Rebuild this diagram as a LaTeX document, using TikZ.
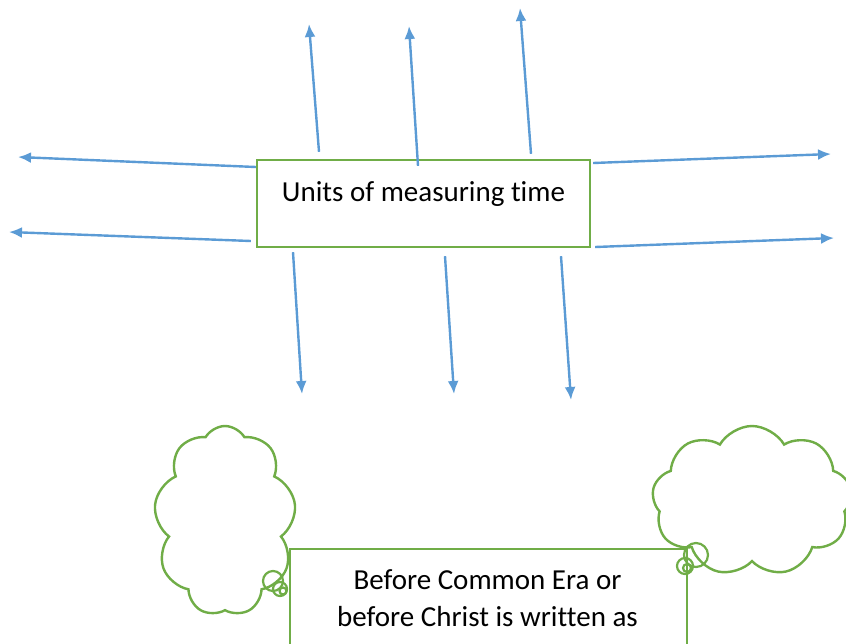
\documentclass[tikz,border=0pt]{standalone}
\usepackage{fontspec}
\setmainfont[Ligatures=NoCommon]{Carlito}
\usetikzlibrary{arrows.meta,shapes.symbols,calc}
\definecolor{arrowblue}{HTML}{5B9BD5}
\definecolor{boxgreen}{HTML}{70AD47}
\begin{document}
\begin{tikzpicture}[x=1pt,y=-1pt,
  arr/.style={draw=arrowblue,line width=2.4pt,-{Latex[length=13pt,width=11pt]}},
  gbox/.style={draw=boxgreen,line width=2.4pt,inner sep=0pt},
  puff/.style={draw=boxgreen,line width=2.4pt,fill=white,cloud,cloud puffs=9,cloud puff arc=120,cloud ignores aspect,inner sep=0pt},
  bubble/.style={draw=boxgreen,line width=2.2pt},
  lbl/.style={font=\fontsize{29}{37}\selectfont,align=center}]
\useasboundingbox (0,0) rectangle (846,643);
\clip (0,0) rectangle (846,643);
% main box
\node[gbox,minimum width=333pt,minimum height=87pt] (main) at (423.5,203.5) {};
\node[lbl] (maintext) at (423.5,194) {Units of measuring time};
% arrow tips
\coordinate (tL1) at (18,157);
\coordinate (tL2) at (9,232);
\coordinate (tR1) at (831,154);
\coordinate (tR2) at (834,238);
\coordinate (tT1) at (309,24);
\coordinate (tT2) at (409,26);
\coordinate (tT3) at (520,8);
\coordinate (tB1) at (302,394);
\coordinate (tB2) at (454,394);
\coordinate (tB3) at (571,400);
\draw[arr] ($(main.west)+(0,-36.5)$) coordinate (sL1) -- (tL1);
\draw[arr] ($(main.west)+(-5,37.5)$) coordinate (sL2) -- (tL2);
\draw[arr] ($(main.east)+(2,-40.5)$) coordinate (sR1) -- (tR1);
\draw[arr] ($(main.east)+(4,43.5)$) coordinate (sR2) -- (tR2);
\draw[arr] ($(main.north)+(-104.5,-7)$) coordinate (sT1) -- (tT1);
\draw[arr] ($(main.north)+(-5.5,7)$) coordinate (sT2) -- (tT2);
\draw[arr] ($(main.north)+(107.5,-5)$) coordinate (sT3) -- (tT3);
\draw[arr] ($(main.south)+(-130.5,4)$) coordinate (sB1) -- (tB1);
\draw[arr] ($(main.south)+(21.5,8)$) coordinate (sB2) -- (tB2);
\draw[arr] ($(main.south)+(137.5,8)$) coordinate (sB3) -- (tB3);
% clouds
\node[puff,minimum width=142pt,minimum height=190pt] (cloudL) at (225,521) {};
\node[puff,minimum width=200pt,minimum height=150pt] (cloudR) at (752,501) {};
% bottom box
\node[gbox,minimum width=397pt,minimum height=160pt,anchor=north west] (bottom) at (289,548) {};
\node[lbl] (bottomtext) at (487.5,598) {Before Common Era or\\before Christ is written as};
% callout bubbles
\draw[bubble] (273,581) circle (10pt);
\draw[bubble] (280,589) circle (7pt);
\draw[bubble] (283,591) circle (3.5pt);
\draw[bubble] (696,555) circle (12pt);
\draw[bubble] (685,566) circle (8pt);
\draw[bubble] (687,568) circle (4pt);
\end{tikzpicture}
\end{document}
